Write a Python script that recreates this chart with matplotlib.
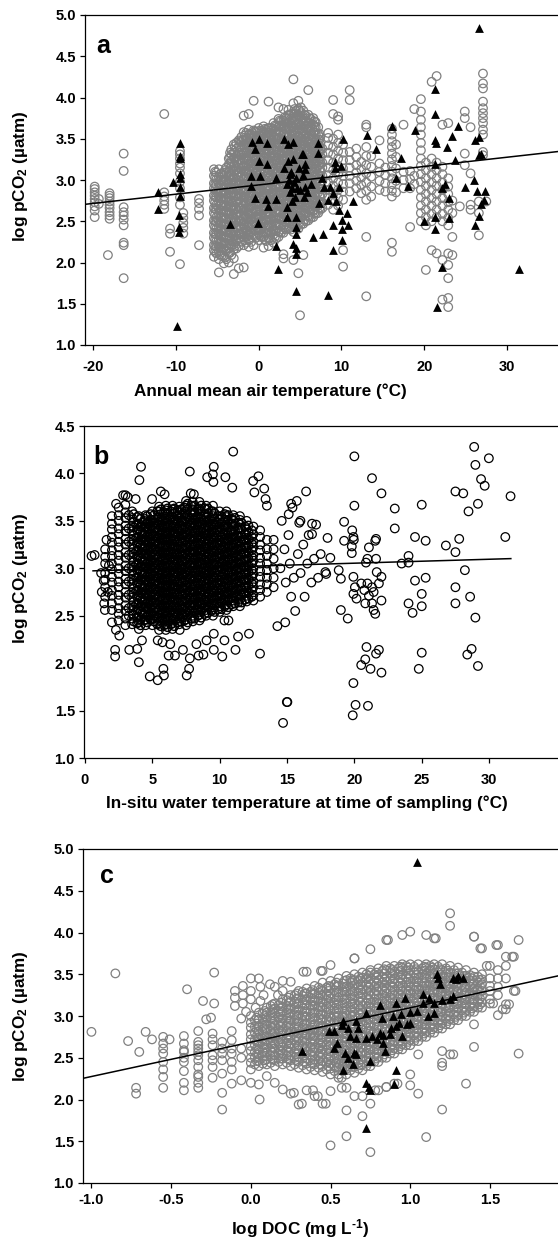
import numpy as np
import matplotlib.pyplot as plt

plt.rcParams['font.family'] = ['Liberation Sans', 'DejaVu Sans']
plt.rcParams['font.weight'] = 'bold'
plt.rcParams['axes.unicode_minus'] = False
plt.rcParams['mathtext.fontset'] = 'custom'
plt.rcParams['mathtext.rm'] = 'Liberation Sans:bold'
plt.rcParams['mathtext.it'] = 'Liberation Sans:bold'
plt.rcParams['mathtext.bf'] = 'Liberation Sans:bold'

GREY = '#808080'

# ---------------- panel a: annual mean air temperature ----------------
# stacks of samples per site temperature
a_site_temp = [-19.8, -19.3, -18.2, -18.0, -16.3, -11.4, -10.7, -9.5, -9.1, -7.2,
               -5.4, -4.8, -4.2, -3.6, -3.0, -2.4, -1.8, -1.2, -0.6, 0.0,
               0.6, 1.2, 1.8, 2.4, 3.0, 3.6, 4.2, 4.8, 5.0, 5.4, 6.0, 6.6, 7.2, 7.7,
               8.4, 9.0, 9.6, 10.2, 11.0, 11.8, 12.4, 13.0, 13.6, 14.6, 15.3,
               16.1, 16.6, 17.5, 18.3, 18.8, 19.6, 20.2, 20.9, 21.5, 22.2, 22.9,
               23.4, 24.3, 24.9, 25.6, 26.6, 27.1, 27.5]
a_site_pco2 = [
    [2.55, 2.63, 2.68, 2.73, 2.77, 2.81, 2.85, 2.89, 2.92],
    [2.71, 2.77],
    [2.09],
    [2.53, 2.57, 2.61, 2.66, 2.7, 2.74, 2.78, 2.81, 2.84],
    [1.81, 2.21, 2.24, 2.45, 2.52, 2.57, 2.61, 2.67, 3.11, 3.32],
    [2.65, 2.7, 2.75, 2.8, 2.85, 3.8],
    [2.13, 2.35, 2.41],
    [1.98, 2.7, 2.79, 2.9, 2.98, 3.08, 3.15, 3.2, 3.26, 3.31, 3.35],
    [2.35, 2.42, 2.48, 2.54, 2.6],
    [2.21, 2.57, 2.65, 2.72, 2.77],
    [2.07, 2.15, 2.21, 2.3, 2.36, 2.45, 2.51, 2.6, 2.66, 2.75, 2.81, 2.9, 2.96, 3.05, 3.13],
    [1.88, 2.04, 2.13, 2.19, 2.28, 2.35, 2.44, 2.5, 2.59, 2.65, 2.74, 2.8, 2.89, 2.95, 3.04, 3.13],
    [1.99, 2.08, 2.17, 2.23, 2.32, 2.38, 2.47, 2.54, 2.63, 2.69, 2.78, 2.85, 2.94, 3.0, 3.09],
    [2.0, 2.11, 2.17, 2.27, 2.33, 2.43, 2.49, 2.58, 2.64, 2.74, 2.8, 2.89, 2.95, 3.04, 3.1, 3.19, 3.26],
    [1.86, 2.05, 2.16, 2.22, 2.32, 2.38, 2.48, 2.54, 2.63, 2.69, 2.79, 2.85, 2.95, 3.01, 3.11, 3.17, 3.27, 3.33, 3.43],
    [1.93, 2.2, 2.29, 2.35, 2.45, 2.51, 2.61, 2.67, 2.77, 2.83, 2.93, 2.99, 3.09, 3.15, 3.25, 3.31, 3.41, 3.48],
    [1.94, 2.21, 2.31, 2.37, 2.47, 2.53, 2.63, 2.69, 2.79, 2.85, 2.95, 3.01, 3.11, 3.17, 3.27, 3.33, 3.43, 3.49, 3.58, 3.78],
    [2.19, 2.27, 2.33, 2.43, 2.49, 2.59, 2.65, 2.75, 2.81, 2.91, 2.97, 3.07, 3.13, 3.23, 3.29, 3.39, 3.45, 3.55, 3.61, 3.8],
    [2.21, 2.33, 2.39, 2.49, 2.55, 2.65, 2.71, 2.81, 2.87, 2.97, 3.03, 3.13, 3.19, 3.29, 3.35, 3.45, 3.51, 3.6, 3.96],
    [2.27, 2.36, 2.42, 2.52, 2.58, 2.68, 2.74, 2.84, 2.9, 3.0, 3.06, 3.16, 3.22, 3.32, 3.38, 3.48, 3.54, 3.63],
    [2.18, 2.31, 2.37, 2.47, 2.53, 2.63, 2.69, 2.79, 2.85, 2.95, 3.01, 3.11, 3.17, 3.27, 3.33, 3.43, 3.49, 3.58, 3.65],
    [2.2, 2.29, 2.39, 2.45, 2.55, 2.61, 2.71, 2.77, 2.87, 2.93, 3.03, 3.09, 3.19, 3.25, 3.35, 3.41, 3.51, 3.57, 3.63, 3.95],
    [2.24, 2.34, 2.4, 2.5, 2.56, 2.66, 2.72, 2.82, 2.88, 2.98, 3.04, 3.14, 3.2, 3.3, 3.36, 3.46, 3.52, 3.62, 3.69],
    [2.31, 2.37, 2.47, 2.53, 2.63, 2.69, 2.79, 2.85, 2.95, 3.01, 3.11, 3.17, 3.27, 3.33, 3.43, 3.49, 3.59, 3.65, 3.74, 3.88],
    [2.05, 2.1, 2.36, 2.43, 2.53, 2.59, 2.69, 2.75, 2.85, 2.91, 3.01, 3.07, 3.17, 3.23, 3.33, 3.39, 3.49, 3.55, 3.65, 3.72, 3.86],
    [2.41, 2.51, 2.57, 2.67, 2.73, 2.83, 2.89, 2.99, 3.05, 3.15, 3.21, 3.31, 3.37, 3.47, 3.53, 3.63, 3.69, 3.79, 3.85],
    [2.03, 2.37, 2.47, 2.53, 2.63, 2.69, 2.79, 2.85, 2.95, 3.01, 3.11, 3.17, 3.27, 3.33, 3.43, 3.49, 3.59, 3.65, 3.75, 3.81, 3.93, 4.22],
    [1.87, 2.41, 2.51, 2.57, 2.67, 2.73, 2.83, 2.89, 2.99, 3.05, 3.15, 3.21, 3.31, 3.37, 3.47, 3.53, 3.63, 3.69, 3.79, 3.86, 3.96],
    [1.36],
    [2.09, 2.47, 2.57, 2.63, 2.73, 2.79, 2.89, 2.95, 3.05, 3.11, 3.21, 3.27, 3.37, 3.43, 3.53, 3.59, 3.69, 3.75, 3.84],
    [2.51, 2.57, 2.67, 2.73, 2.83, 2.89, 2.99, 3.05, 3.15, 3.21, 3.31, 3.37, 3.47, 3.53, 3.63, 3.69, 3.79, 4.09],
    [2.55, 2.63, 2.72, 2.78, 2.88, 2.94, 3.04, 3.1, 3.2, 3.26, 3.36, 3.42, 3.52, 3.58, 3.67, 3.75],
    [2.6, 2.69, 2.75, 2.85, 2.91, 3.01, 3.07, 3.17, 3.23, 3.33, 3.39, 3.49, 3.55, 3.64],
    [2.66, 2.73, 2.83, 2.89, 2.99, 3.05, 3.15, 3.21, 3.31, 3.38],
    [2.7, 2.79, 2.88, 2.97, 3.06, 3.15, 3.24, 3.33, 3.42, 3.51, 3.57],
    [2.64, 2.74, 2.83, 2.93, 3.02, 3.12, 3.21, 3.31, 3.4, 3.5, 3.8, 3.97],
    [2.69, 2.78, 2.88, 2.97, 3.07, 3.16, 3.26, 3.35, 3.45, 3.55, 3.73, 3.77],
    [1.95, 2.15, 2.76, 2.86, 2.95, 3.05, 3.14, 3.24, 3.33, 3.43],
    [2.86, 2.96, 3.05, 3.15, 3.24, 3.34, 3.97, 4.09],
    [2.9, 2.99, 3.09, 3.18, 3.28, 3.38],
    [2.84, 2.94, 3.03, 3.13, 3.22],
    [1.59, 2.31, 2.76, 2.87, 2.97, 3.08, 3.18, 3.29, 3.4, 3.64, 3.67],
    [2.8, 2.92, 3.04, 3.16, 3.29],
    [2.88, 2.99, 3.1, 3.2, 3.48],
    [2.86, 2.96, 3.06, 3.15],
    [2.13, 2.24, 2.8, 2.87, 2.95, 3.02, 3.1, 3.17, 3.25, 3.32, 3.4, 3.47, 3.55, 3.62],
    [2.85, 2.99, 3.14, 3.28, 3.43],
    [2.9, 3.0, 3.1, 3.67],
    [2.43, 2.9, 3.01, 3.11],
    [2.95, 3.05, 3.86],
    [2.5, 2.6, 2.69, 2.79, 2.88, 2.98, 3.07, 3.17, 3.26, 3.36, 3.45, 3.55, 3.64, 3.73, 3.83, 3.98],
    [1.91, 2.45, 2.55, 2.64, 2.74, 2.83, 2.93, 3.02, 3.12, 3.21],
    [2.15, 2.5, 2.59, 2.69, 2.78, 2.88, 2.97, 3.07, 3.16, 3.26, 4.19],
    [2.11, 2.55, 2.64, 2.74, 2.83, 2.93, 3.02, 3.12, 3.21, 4.26],
    [1.55, 2.03, 2.5, 2.59, 2.69, 2.78, 2.88, 2.97, 3.07, 3.16, 3.67],
    [1.46, 1.57, 1.81, 1.97, 2.11, 2.45, 2.54, 2.64, 2.73, 2.83, 2.92, 3.02, 3.69],
    [2.09, 2.31, 2.6, 2.75],
    [2.68],
    [3.18, 3.32, 3.75, 3.83],
    [2.64, 2.7, 3.08, 3.64],
    [2.33, 2.6, 2.74],
    [3.3, 3.34, 3.55, 3.61, 3.69, 3.75, 3.81, 3.87, 3.95, 4.11, 4.17, 4.29],
    [2.74],
]
# more samples inside the solid grey core (-5 to 8 degC)
a_core_temp = [-5.1, -4.5, -3.9, -3.3, -2.7, -2.1, -1.5, -0.9, -0.3, 0.3, 0.9, 1.5,
               2.1, 2.7, 3.3, 3.9, 4.5, 5.1, 5.7, 6.3, 6.9, 7.45,
               -5.25, -4.65, -4.05, -3.45, -2.85, -2.25, -1.65, -1.05, -0.45, 0.15, 0.75,
               1.35, 1.95, 2.55, 3.15, 3.75, 4.35, 4.95, 5.55, 6.15, 6.75, 7.35]
a_core_pco2 = [
    [2.11, 2.19, 2.26, 2.34, 2.41, 2.49, 2.55, 2.64, 2.7, 2.79, 2.86, 2.94, 3.01, 3.09],
    [2.08, 2.17, 2.24, 2.32, 2.39, 2.48, 2.54, 2.63, 2.7, 2.78, 2.85, 2.93, 3.0, 3.08],
    [2.04, 2.14, 2.21, 2.3, 2.37, 2.46, 2.53, 2.62, 2.69, 2.78, 2.84, 2.93, 3.0, 3.09, 3.15],
    [2.09, 2.2, 2.27, 2.36, 2.43, 2.52, 2.59, 2.68, 2.75, 2.84, 2.91, 3.0, 3.07, 3.16, 3.23, 3.31, 3.37],
    [2.17, 2.26, 2.33, 2.42, 2.49, 2.58, 2.65, 2.74, 2.81, 2.9, 2.97, 3.06, 3.13, 3.22, 3.29, 3.38, 3.45],
    [2.25, 2.34, 2.41, 2.5, 2.57, 2.66, 2.73, 2.82, 2.89, 2.98, 3.05, 3.14, 3.21, 3.3, 3.37, 3.46, 3.52],
    [2.24, 2.31, 2.38, 2.47, 2.54, 2.63, 2.7, 2.79, 2.86, 2.95, 3.02, 3.11, 3.18, 3.27, 3.34, 3.43, 3.5, 3.57],
    [2.25, 2.36, 2.43, 2.52, 2.59, 2.68, 2.75, 2.84, 2.91, 3.0, 3.07, 3.16, 3.23, 3.32, 3.39, 3.48, 3.55],
    [2.3, 2.39, 2.46, 2.55, 2.62, 2.71, 2.78, 2.87, 2.94, 3.03, 3.1, 3.19, 3.26, 3.35, 3.42, 3.51, 3.58],
    [2.31, 2.4, 2.47, 2.56, 2.63, 2.72, 2.79, 2.88, 2.95, 3.04, 3.11, 3.2, 3.27, 3.36, 3.43, 3.52, 3.59],
    [2.26, 2.35, 2.42, 2.51, 2.58, 2.67, 2.74, 2.83, 2.9, 2.99, 3.06, 3.15, 3.22, 3.31, 3.38, 3.47, 3.54, 3.61],
    [2.27, 2.36, 2.43, 2.52, 2.59, 2.68, 2.75, 2.84, 2.91, 3.0, 3.07, 3.16, 3.23, 3.32, 3.39, 3.48, 3.55, 3.63],
    [2.29, 2.38, 2.45, 2.54, 2.61, 2.7, 2.77, 2.86, 2.93, 3.02, 3.09, 3.18, 3.25, 3.34, 3.41, 3.5, 3.57, 3.65],
    [2.36, 2.45, 2.52, 2.61, 2.68, 2.77, 2.84, 2.93, 3.0, 3.09, 3.16, 3.25, 3.32, 3.41, 3.48, 3.57, 3.64, 3.71],
    [2.4, 2.49, 2.56, 2.65, 2.72, 2.81, 2.88, 2.97, 3.04, 3.13, 3.2, 3.29, 3.36, 3.45, 3.52, 3.61, 3.68, 3.75],
    [2.4, 2.47, 2.54, 2.63, 2.7, 2.79, 2.86, 2.95, 3.02, 3.11, 3.18, 3.27, 3.34, 3.43, 3.5, 3.59, 3.66, 3.74, 3.8],
    [2.42, 2.49, 2.56, 2.65, 2.72, 2.81, 2.88, 2.97, 3.04, 3.13, 3.2, 3.29, 3.36, 3.45, 3.52, 3.61, 3.68, 3.77, 3.84],
    [2.46, 2.54, 2.61, 2.7, 2.77, 2.86, 2.93, 3.02, 3.09, 3.18, 3.25, 3.34, 3.41, 3.5, 3.57, 3.66, 3.73, 3.81, 3.88],
    [2.5, 2.59, 2.66, 2.75, 2.82, 2.91, 2.98, 3.07, 3.14, 3.23, 3.3, 3.39, 3.46, 3.55, 3.62, 3.71, 3.78],
    [2.54, 2.63, 2.7, 2.79, 2.86, 2.95, 3.02, 3.11, 3.18, 3.27, 3.34, 3.43, 3.5, 3.59, 3.66, 3.74],
    [2.59, 2.68, 2.75, 2.84, 2.91, 3.0, 3.07, 3.16, 3.23, 3.32, 3.39, 3.48, 3.55, 3.64, 3.7],
    [2.64, 2.73, 2.8, 2.89, 2.96, 3.05, 3.12, 3.21, 3.28, 3.37, 3.44, 3.52],
    [2.13, 2.2, 2.28, 2.35, 2.43, 2.5, 2.58, 2.65, 2.73, 2.8, 2.88, 2.95, 3.03, 3.1],
    [2.1, 2.18, 2.25, 2.33, 2.4, 2.48, 2.55, 2.63, 2.7, 2.78, 2.85, 2.93, 3.0, 3.07],
    [2.06, 2.15, 2.23, 2.31, 2.38, 2.46, 2.53, 2.61, 2.68, 2.76, 2.83, 2.91, 2.98, 3.06, 3.12],
    [2.12, 2.22, 2.3, 2.37, 2.45, 2.52, 2.6, 2.67, 2.75, 2.82, 2.9, 2.97, 3.05, 3.12, 3.2, 3.27, 3.33],
    [2.2, 2.28, 2.36, 2.43, 2.51, 2.58, 2.66, 2.73, 2.81, 2.88, 2.96, 3.03, 3.11, 3.18, 3.26, 3.33, 3.41],
    [2.26, 2.35, 2.43, 2.5, 2.58, 2.65, 2.73, 2.8, 2.88, 2.95, 3.03, 3.1, 3.18, 3.25, 3.33, 3.4, 3.47],
    [2.27, 2.35, 2.42, 2.5, 2.57, 2.65, 2.72, 2.8, 2.87, 2.95, 3.02, 3.1, 3.17, 3.25, 3.32, 3.4, 3.47, 3.54],
    [2.28, 2.37, 2.45, 2.52, 2.6, 2.67, 2.75, 2.82, 2.9, 2.97, 3.05, 3.12, 3.2, 3.27, 3.35, 3.42, 3.5, 3.56],
    [2.32, 2.4, 2.48, 2.55, 2.63, 2.7, 2.78, 2.85, 2.93, 3.0, 3.08, 3.15, 3.23, 3.3, 3.38, 3.45, 3.53, 3.59],
    [2.33, 2.41, 2.49, 2.56, 2.64, 2.71, 2.79, 2.86, 2.94, 3.01, 3.09, 3.16, 3.24, 3.31, 3.39, 3.46, 3.54, 3.6],
    [2.28, 2.36, 2.44, 2.51, 2.59, 2.66, 2.74, 2.81, 2.89, 2.96, 3.04, 3.11, 3.19, 3.26, 3.34, 3.41, 3.49, 3.56, 3.62],
    [2.29, 2.37, 2.45, 2.52, 2.6, 2.67, 2.75, 2.82, 2.9, 2.97, 3.05, 3.12, 3.2, 3.27, 3.35, 3.42, 3.5, 3.57, 3.63],
    [2.31, 2.39, 2.47, 2.54, 2.62, 2.69, 2.77, 2.84, 2.92, 2.99, 3.07, 3.14, 3.22, 3.29, 3.37, 3.44, 3.52, 3.59, 3.66],
    [2.38, 2.46, 2.54, 2.61, 2.69, 2.76, 2.84, 2.91, 2.99, 3.06, 3.14, 3.21, 3.29, 3.36, 3.44, 3.51, 3.59, 3.66, 3.72],
    [2.42, 2.5, 2.58, 2.65, 2.73, 2.8, 2.88, 2.95, 3.03, 3.1, 3.18, 3.25, 3.33, 3.4, 3.48, 3.55, 3.63, 3.7, 3.76],
    [2.43, 2.5, 2.57, 2.65, 2.72, 2.8, 2.87, 2.95, 3.02, 3.1, 3.17, 3.25, 3.32, 3.4, 3.47, 3.55, 3.62, 3.7, 3.78],
    [2.44, 2.52, 2.59, 2.67, 2.74, 2.82, 2.89, 2.97, 3.04, 3.12, 3.19, 3.27, 3.34, 3.42, 3.49, 3.57, 3.64, 3.72, 3.8, 3.86],
    [2.48, 2.56, 2.63, 2.71, 2.78, 2.86, 2.93, 3.01, 3.08, 3.16, 3.23, 3.31, 3.38, 3.46, 3.53, 3.61, 3.68, 3.76, 3.84],
    [2.52, 2.6, 2.67, 2.75, 2.82, 2.9, 2.97, 3.05, 3.12, 3.2, 3.27, 3.35, 3.42, 3.5, 3.57, 3.65, 3.72, 3.79],
    [2.56, 2.64, 2.71, 2.79, 2.86, 2.94, 3.01, 3.09, 3.16, 3.24, 3.31, 3.39, 3.46, 3.54, 3.61, 3.69, 3.75],
    [2.6, 2.68, 2.75, 2.83, 2.9, 2.98, 3.05, 3.13, 3.2, 3.28, 3.35, 3.43, 3.5, 3.58, 3.65, 3.71],
    [2.66, 2.74, 2.81, 2.89, 2.96, 3.04, 3.11, 3.19, 3.26, 3.34, 3.41, 3.49, 3.56],
]
# filled triangles (temperature, log pCO2)
a_tri = [(-12.2, 2.86), (-12.2, 2.65), (-10.4, 2.97), (-9.5, 3.45), (-9.5, 3.29), (-9.5, 3.27),
         (-9.5, 3.07), (-9.5, 3.03), (-9.5, 2.92), (-9.5, 2.81), (-9.6, 2.58), (-9.6, 2.43),
         (-9.6, 2.37), (-9.8, 1.23), (-3.48, 2.47), (-0.83, 3.46), (0.08, 3.5), (1.02, 3.45),
         (-0.38, 3.37), (0.0, 3.23), (1.02, 3.19), (-0.95, 3.05), (0.19, 3.05), (2.08, 3.03),
         (-0.95, 2.93), (-0.38, 2.78), (0.95, 2.77), (1.14, 2.69), (2.08, 2.77), (3.03, 3.5),
         (3.6, 3.44), (4.17, 3.46), (3.6, 3.23), (4.17, 3.25), (3.03, 3.15), (3.79, 3.07),
         (3.41, 2.95), (4.55, 3.03), (4.92, 3.15), (5.38, 3.31), (3.41, 2.67), (3.41, 2.55),
         (4.55, 2.55), (4.55, 2.43), (4.55, 2.35), (4.17, 2.23), (4.55, 2.17), (4.55, 2.1),
         (-0.08, 2.48), (2.08, 2.2), (2.35, 1.92), (4.55, 1.65), (3.8, 2.85), (4.0, 2.9),
         (4.3, 2.98), (3.9, 3.1), (4.4, 2.8), (4.0, 2.75), (3.7, 3.0), (4.6, 2.9), (5.9, 2.85),
         (6.3, 2.95), (5.5, 2.8), (26.56, 4.84), (21.27, 4.1), (21.27, 3.8), (16.1, 3.65),
         (18.88, 3.61), (24.1, 3.65), (23.35, 3.53), (21.27, 3.48), (21.46, 3.45), (22.78, 3.4),
         (23.72, 3.24), (21.27, 3.19), (26.56, 3.52), (26.18, 3.49), (26.56, 3.3), (26.8, 3.32),
         (13.06, 3.55), (10.19, 3.5), (14.2, 3.38), (17.2, 3.27), (7.16, 3.45), (7.16, 3.33),
         (5.2, 3.32), (5.58, 3.2), (5.58, 3.13), (5.39, 3.06), (5.58, 2.92), (5.0, 2.88),
         (7.65, 3.02), (7.84, 2.92), (9.17, 3.22), (9.92, 3.17), (9.17, 3.14), (8.6, 2.92),
         (9.73, 2.92), (8.98, 2.84), (8.4, 2.76), (9.36, 2.74), (7.28, 2.72), (9.73, 2.64),
         (10.68, 2.6), (10.1, 2.52), (8.98, 2.45), (10.1, 2.41), (10.8, 2.45), (7.77, 2.35),
         (6.52, 2.31), (10.1, 2.27), (8.98, 2.15), (16.65, 3.03), (18.05, 2.93), (11.36, 2.74),
         (8.4, 1.61), (22.5, 2.95), (22.2, 2.9), (22.97, 2.78), (22.97, 2.54), (21.27, 2.55),
         (19.94, 2.5), (21.27, 2.41), (24.97, 2.92), (25.99, 3.0), (26.37, 2.87), (27.4, 2.87),
         (27.2, 2.76), (26.9, 2.71), (26.56, 2.56), (26.1, 2.46), (22.2, 1.94), (21.57, 1.46),
         (31.47, 1.92)]
a_fit = (2.94, 0.0112)   # intercept, slope

# ---------------- panel b: in-situ water temperature ----------------
b_col_temp = [1.5, 2.0, 2.5, 3.0, 3.5, 4.0, 4.5, 5.0, 5.5, 6.0, 6.5, 7.0, 7.5, 8.0, 8.5,
              9.0, 9.5, 10.0, 10.5, 11.0, 11.5, 12.0, 12.5, 13.0, 13.5, 14.0,
              3.25, 4.25, 4.75, 5.25, 5.75, 6.25, 6.75, 7.25, 7.75, 8.25, 8.75, 9.25,
              9.75, 10.25, 10.75, 11.25, 11.75]
b_col_pco2 = [
    [2.7, 2.8, 2.88, 2.95, 3.05, 3.12, 3.2],
    [2.56, 2.63, 2.71, 2.77, 2.85, 2.91, 2.99, 3.05, 3.13, 3.19, 3.27, 3.33, 3.41, 3.47, 3.55],
    [2.45, 2.52, 2.58, 2.66, 2.72, 2.8, 2.86, 2.94, 3.0, 3.08, 3.14, 3.22, 3.28, 3.36, 3.42, 3.5, 3.56, 3.64],
    [2.4, 2.47, 2.55, 2.61, 2.69, 2.75, 2.83, 2.89, 2.97, 3.03, 3.11, 3.17, 3.25, 3.31, 3.39, 3.45, 3.53, 3.59, 3.67],
    [2.41, 2.47, 2.55, 2.61, 2.69, 2.75, 2.83, 2.89, 2.97, 3.03, 3.11, 3.17, 3.25, 3.31, 3.39, 3.45, 3.53, 3.6],
    [2.36, 2.43, 2.49, 2.57, 2.63, 2.71, 2.77, 2.85, 2.91, 2.99, 3.05, 3.13, 3.19, 3.27, 3.33, 3.41, 3.47, 3.55],
    [2.4, 2.46, 2.54, 2.6, 2.68, 2.74, 2.82, 2.88, 2.96, 3.02, 3.1, 3.16, 3.24, 3.3, 3.38, 3.44, 3.52, 3.56],
    [2.4, 2.47, 2.53, 2.61, 2.67, 2.75, 2.81, 2.89, 2.95, 3.03, 3.09, 3.17, 3.23, 3.31, 3.37, 3.45, 3.51, 3.6],
    [2.35, 2.42, 2.48, 2.56, 2.62, 2.7, 2.76, 2.84, 2.9, 2.98, 3.04, 3.12, 3.18, 3.26, 3.32, 3.4, 3.46, 3.54, 3.6, 3.65],
    [2.35, 2.41, 2.49, 2.55, 2.63, 2.69, 2.77, 2.83, 2.91, 2.97, 3.05, 3.11, 3.19, 3.25, 3.33, 3.39, 3.47, 3.53, 3.61, 3.66],
    [2.36, 2.42, 2.5, 2.56, 2.64, 2.7, 2.78, 2.84, 2.92, 2.98, 3.06, 3.12, 3.2, 3.26, 3.34, 3.4, 3.48, 3.54, 3.62, 3.66],
    [2.41, 2.47, 2.55, 2.61, 2.69, 2.75, 2.83, 2.89, 2.97, 3.03, 3.11, 3.17, 3.25, 3.31, 3.39, 3.45, 3.53, 3.59, 3.65],
    [2.4, 2.46, 2.54, 2.6, 2.68, 2.74, 2.82, 2.88, 2.96, 3.02, 3.1, 3.16, 3.24, 3.3, 3.38, 3.44, 3.52, 3.58, 3.66, 3.71],
    [2.44, 2.5, 2.58, 2.64, 2.72, 2.78, 2.86, 2.92, 3.0, 3.06, 3.14, 3.2, 3.28, 3.34, 3.42, 3.48, 3.56, 3.62, 3.7],
    [2.45, 2.51, 2.59, 2.65, 2.73, 2.79, 2.87, 2.93, 3.01, 3.07, 3.15, 3.21, 3.29, 3.35, 3.43, 3.49, 3.57, 3.63, 3.7],
    [2.5, 2.56, 2.64, 2.7, 2.78, 2.84, 2.92, 2.98, 3.06, 3.12, 3.2, 3.26, 3.34, 3.4, 3.48, 3.54, 3.62, 3.66],
    [2.5, 2.57, 2.63, 2.71, 2.77, 2.85, 2.91, 2.99, 3.05, 3.13, 3.19, 3.27, 3.33, 3.41, 3.47, 3.55, 3.6, 3.66],
    [2.54, 2.6, 2.68, 2.74, 2.82, 2.88, 2.96, 3.02, 3.1, 3.16, 3.24, 3.3, 3.38, 3.44, 3.52, 3.6],
    [2.56, 2.62, 2.7, 2.76, 2.84, 2.9, 2.98, 3.04, 3.12, 3.18, 3.26, 3.32, 3.4, 3.46, 3.54, 3.6],
    [2.6, 2.66, 2.74, 2.8, 2.88, 2.94, 3.02, 3.08, 3.16, 3.22, 3.3, 3.36, 3.44, 3.5, 3.56],
    [2.6, 2.67, 2.73, 2.81, 2.87, 2.95, 3.01, 3.09, 3.15, 3.23, 3.29, 3.37, 3.43, 3.51, 3.55],
    [2.65, 2.71, 2.79, 2.85, 2.93, 2.99, 3.07, 3.13, 3.21, 3.27, 3.35, 3.41, 3.5],
    [2.66, 2.72, 2.8, 2.86, 2.94, 3.0, 3.08, 3.14, 3.22, 3.28, 3.36, 3.44],
    [2.7, 2.77, 2.83, 2.91, 2.97, 3.05, 3.11, 3.19, 3.25, 3.33, 3.4],
    [2.75, 2.83, 2.9, 2.98, 3.05, 3.13, 3.2, 3.3],
    [2.8, 2.9, 3.0, 3.1, 3.2, 3.3],
    [2.5, 2.58, 2.72, 2.86, 3.0, 3.14, 3.28, 3.42, 3.56],
    [2.52, 2.6, 2.66, 2.74, 2.8, 2.88, 2.94, 3.02, 3.08, 3.16, 3.22, 3.3, 3.36, 3.44],
    [2.5, 2.57, 2.63, 2.71, 2.77, 2.85, 2.91, 2.99, 3.05, 3.13, 3.19, 3.27, 3.33, 3.41, 3.47],
    [2.5, 2.58, 2.64, 2.72, 2.78, 2.86, 2.92, 3.0, 3.06, 3.14, 3.2, 3.28, 3.34, 3.42, 3.48],
    [2.46, 2.52, 2.6, 2.66, 2.74, 2.8, 2.88, 2.94, 3.02, 3.08, 3.16, 3.22, 3.3, 3.36, 3.44, 3.5],
    [2.45, 2.53, 2.59, 2.67, 2.73, 2.81, 2.87, 2.95, 3.01, 3.09, 3.15, 3.23, 3.29, 3.37, 3.43, 3.51],
    [2.46, 2.52, 2.6, 2.66, 2.74, 2.8, 2.88, 2.94, 3.02, 3.08, 3.16, 3.22, 3.3, 3.36, 3.44, 3.5],
    [2.5, 2.57, 2.65, 2.71, 2.79, 2.85, 2.93, 2.99, 3.07, 3.13, 3.21, 3.27, 3.35, 3.41, 3.49],
    [2.55, 2.61, 2.69, 2.75, 2.83, 2.89, 2.97, 3.03, 3.11, 3.17, 3.25, 3.31, 3.39, 3.45, 3.52],
    [2.55, 2.62, 2.68, 2.76, 2.82, 2.9, 2.96, 3.04, 3.1, 3.18, 3.24, 3.32, 3.38, 3.46, 3.52],
    [2.58, 2.64, 2.72, 2.78, 2.86, 2.92, 3.0, 3.06, 3.14, 3.2, 3.28, 3.34, 3.42, 3.48],
    [2.6, 2.67, 2.73, 2.81, 2.87, 2.95, 3.01, 3.09, 3.15, 3.23, 3.29, 3.37, 3.43, 3.5],
    [2.63, 2.7, 2.76, 2.84, 2.9, 2.98, 3.04, 3.12, 3.18, 3.26, 3.32, 3.4, 3.46],
    [2.66, 2.72, 2.8, 2.86, 2.94, 3.0, 3.08, 3.14, 3.22, 3.28, 3.36, 3.44],
    [2.68, 2.76, 2.82, 2.9, 2.96, 3.04, 3.1, 3.18, 3.24, 3.32, 3.4],
    [2.7, 2.78, 2.84, 2.92, 2.98, 3.06, 3.12, 3.2, 3.26, 3.34],
    [2.74, 2.8, 2.88, 2.94, 3.02, 3.08, 3.16, 3.22, 3.3],
]
# more samples inside the solid black core
b_core_temp = [3.625, 4.125, 4.625, 5.125, 5.625, 6.125, 6.625, 7.125, 7.625, 8.125,
               8.625, 9.125, 9.625, 10.125, 10.625, 11.125, 11.625, 12.125,
               3.875, 4.375, 4.875, 5.375, 5.875, 6.375, 6.875, 7.375, 7.875, 8.375,
               8.875, 9.375, 9.875, 10.375, 10.875, 11.375, 11.875, 12.375]
b_core_pco2 = [
    [2.44, 2.51, 2.59, 2.65, 2.73, 2.79, 2.87, 2.93, 3.01, 3.07, 3.15, 3.21, 3.29, 3.35, 3.43, 3.49, 3.57],
    [2.4, 2.46, 2.54, 2.6, 2.68, 2.74, 2.82, 2.88, 2.96, 3.02, 3.1, 3.16, 3.24, 3.3, 3.38, 3.44, 3.52],
    [2.43, 2.5, 2.57, 2.64, 2.71, 2.78, 2.85, 2.92, 2.99, 3.06, 3.13, 3.2, 3.27, 3.34, 3.41, 3.48, 3.55],
    [2.44, 2.5, 2.58, 2.64, 2.72, 2.78, 2.86, 2.92, 3.0, 3.06, 3.14, 3.2, 3.28, 3.34, 3.42, 3.48, 3.56],
    [2.39, 2.45, 2.52, 2.59, 2.66, 2.73, 2.8, 2.87, 2.94, 3.01, 3.08, 3.15, 3.22, 3.29, 3.36, 3.43, 3.5, 3.57, 3.62],
    [2.38, 2.45, 2.52, 2.59, 2.66, 2.73, 2.8, 2.87, 2.94, 3.01, 3.08, 3.15, 3.22, 3.29, 3.36, 3.43, 3.5, 3.57, 3.63],
    [2.39, 2.46, 2.53, 2.6, 2.67, 2.74, 2.81, 2.88, 2.95, 3.02, 3.09, 3.16, 3.23, 3.3, 3.37, 3.44, 3.51, 3.58, 3.63],
    [2.44, 2.51, 2.58, 2.65, 2.72, 2.79, 2.86, 2.93, 3.0, 3.07, 3.14, 3.21, 3.28, 3.35, 3.42, 3.49, 3.56, 3.62],
    [2.43, 2.5, 2.57, 2.64, 2.71, 2.78, 2.85, 2.92, 2.99, 3.06, 3.13, 3.2, 3.27, 3.34, 3.41, 3.48, 3.55, 3.62, 3.68],
    [2.47, 2.54, 2.61, 2.68, 2.75, 2.82, 2.89, 2.96, 3.03, 3.1, 3.17, 3.24, 3.31, 3.38, 3.45, 3.52, 3.59, 3.66],
    [2.48, 2.55, 2.62, 2.69, 2.76, 2.83, 2.9, 2.97, 3.04, 3.11, 3.18, 3.25, 3.32, 3.39, 3.46, 3.53, 3.6, 3.66],
    [2.53, 2.6, 2.67, 2.74, 2.81, 2.88, 2.95, 3.02, 3.09, 3.16, 3.23, 3.3, 3.37, 3.44, 3.51, 3.58, 3.63],
    [2.54, 2.61, 2.68, 2.75, 2.82, 2.89, 2.96, 3.03, 3.1, 3.17, 3.24, 3.31, 3.38, 3.45, 3.52, 3.58],
    [2.57, 2.64, 2.71, 2.78, 2.85, 2.92, 2.99, 3.06, 3.13, 3.2, 3.27, 3.34, 3.41, 3.48, 3.55],
    [2.59, 2.66, 2.73, 2.8, 2.87, 2.94, 3.01, 3.08, 3.15, 3.22, 3.29, 3.36, 3.43, 3.5, 3.56],
    [2.63, 2.7, 2.77, 2.84, 2.91, 2.98, 3.05, 3.12, 3.19, 3.26, 3.33, 3.4, 3.47, 3.53],
    [2.64, 2.71, 2.78, 2.85, 2.92, 2.99, 3.06, 3.13, 3.2, 3.27, 3.34, 3.41, 3.48],
    [2.68, 2.75, 2.82, 2.89, 2.96, 3.03, 3.1, 3.17, 3.24, 3.31, 3.38, 3.45],
    [2.42, 2.49, 2.56, 2.63, 2.7, 2.77, 2.84, 2.91, 2.98, 3.05, 3.12, 3.19, 3.26, 3.33, 3.4, 3.47, 3.54],
    [2.45, 2.52, 2.59, 2.66, 2.73, 2.8, 2.87, 2.94, 3.01, 3.08, 3.15, 3.22, 3.29, 3.36, 3.43, 3.5],
    [2.46, 2.53, 2.6, 2.67, 2.74, 2.81, 2.88, 2.95, 3.02, 3.09, 3.16, 3.23, 3.3, 3.37, 3.44, 3.51, 3.57],
    [2.41, 2.48, 2.55, 2.62, 2.69, 2.76, 2.83, 2.9, 2.97, 3.04, 3.11, 3.18, 3.25, 3.32, 3.39, 3.46, 3.53, 3.6],
    [2.4, 2.47, 2.54, 2.61, 2.68, 2.75, 2.82, 2.89, 2.96, 3.03, 3.1, 3.17, 3.24, 3.31, 3.38, 3.45, 3.52, 3.59],
    [2.41, 2.48, 2.55, 2.62, 2.69, 2.76, 2.83, 2.9, 2.97, 3.04, 3.11, 3.18, 3.25, 3.32, 3.39, 3.46, 3.53, 3.6],
    [2.43, 2.5, 2.57, 2.64, 2.71, 2.78, 2.85, 2.92, 2.99, 3.06, 3.13, 3.2, 3.27, 3.34, 3.41, 3.48, 3.55, 3.61],
    [2.45, 2.52, 2.59, 2.66, 2.73, 2.8, 2.87, 2.94, 3.01, 3.08, 3.15, 3.22, 3.29, 3.36, 3.43, 3.5, 3.57, 3.64],
    [2.47, 2.54, 2.61, 2.68, 2.75, 2.82, 2.89, 2.96, 3.03, 3.1, 3.17, 3.24, 3.31, 3.38, 3.45, 3.52, 3.59, 3.66],
    [2.5, 2.57, 2.64, 2.71, 2.78, 2.85, 2.92, 2.99, 3.06, 3.13, 3.2, 3.27, 3.34, 3.41, 3.48, 3.55, 3.62],
    [2.52, 2.59, 2.66, 2.73, 2.8, 2.87, 2.94, 3.01, 3.08, 3.15, 3.22, 3.29, 3.36, 3.43, 3.5, 3.57, 3.63],
    [2.55, 2.62, 2.69, 2.76, 2.83, 2.9, 2.97, 3.04, 3.11, 3.18, 3.25, 3.32, 3.39, 3.46, 3.53, 3.6],
    [2.57, 2.64, 2.71, 2.78, 2.85, 2.92, 2.99, 3.06, 3.13, 3.2, 3.27, 3.34, 3.41, 3.48, 3.55],
    [2.6, 2.67, 2.74, 2.81, 2.88, 2.95, 3.02, 3.09, 3.16, 3.23, 3.3, 3.37, 3.44, 3.51, 3.57],
    [2.62, 2.69, 2.76, 2.83, 2.9, 2.97, 3.04, 3.11, 3.18, 3.25, 3.32, 3.39, 3.46, 3.52],
    [2.64, 2.71, 2.78, 2.85, 2.92, 2.99, 3.06, 3.13, 3.2, 3.27, 3.34, 3.41, 3.48],
    [2.67, 2.74, 2.81, 2.88, 2.95, 3.02, 3.09, 3.16, 3.23, 3.3, 3.37, 3.44],
    [2.7, 2.77, 2.84, 2.91, 2.98, 3.05, 3.12, 3.19, 3.26, 3.33, 3.4],
]
b_scatter = [(4.16, 4.07), (4.04, 3.93), (7.78, 4.02), (9.56, 4.07), (9.49, 3.99), (9.07, 3.96),
             (9.53, 3.91), (10.42, 3.96), (10.93, 3.85), (11.0, 4.23), (12.87, 3.97), (12.48, 3.92),
             (12.57, 3.8), (13.3, 3.84), (13.5, 3.66), (13.4, 3.73), (5.63, 3.81), (4.98, 3.73),
             (5.91, 3.78), (7.85, 3.79), (8.08, 3.78), (3.01, 3.77), (2.83, 3.77), (3.18, 3.75),
             (3.76, 3.73), (2.31, 3.68), (0.72, 3.14), (0.49, 3.13), (1.78, 3.03), (1.39, 2.87),
             (1.43, 2.63), (1.48, 2.56), (2.0, 2.43), (2.3, 2.35), (2.55, 2.29), (2.24, 2.14),
             (2.24, 2.07), (3.29, 2.14), (3.88, 2.15), (4.0, 2.01), (4.23, 2.24), (4.81, 1.86),
             (5.4, 2.24), (5.4, 1.82), (5.86, 1.87), (5.82, 1.94), (6.21, 2.08), (6.68, 2.08),
             (7.27, 2.14), (7.55, 1.87), (7.73, 1.94), (7.78, 2.05), (8.43, 2.08), (8.79, 2.09),
             (9.02, 2.24), (9.56, 2.14), (10.19, 2.07), (10.35, 2.24), (11.17, 2.14), (11.36, 2.28),
             (12.17, 2.31), (12.99, 2.1), (14.28, 2.39), (14.86, 2.43), (14.98, 1.59), (14.7, 1.37),
             (10.65, 2.45), (10.35, 2.45), (9.56, 2.31), (8.27, 2.2), (7.03, 2.35), (6.33, 2.2),
             (5.75, 2.22), (1.2, 2.95), (1.6, 3.3), (1.7, 2.75), (1.25, 2.75),
             (14.8, 3.2), (15.2, 3.05), (15.5, 2.9), (15.8, 3.15), (16.0, 2.95), (16.2, 3.25),
             (16.5, 3.05), (16.8, 2.85), (17.0, 3.1), (14.9, 2.85), (15.3, 2.7), (15.6, 2.55),
             (16.3, 2.7), (17.3, 2.9), (16.6, 3.35), (15.1, 3.35), (14.6, 3.5), (14.5, 3.0),
             (16.41, 3.81), (15.72, 3.71), (15.3, 3.68), (15.12, 3.57), (15.4, 3.64), (15.99, 3.5),
             (15.9, 3.48), (16.85, 3.47), (16.85, 3.36), (17.15, 3.46), (18.0, 3.32), (18.21, 3.11),
             (17.49, 3.15), (17.84, 2.96), (17.9, 2.94), (18.83, 2.98), (18.99, 2.89), (19.23, 3.49),
             (19.23, 3.29), (18.99, 2.56), (19.5, 2.47), (19.99, 4.18), (19.99, 3.66), (19.83, 3.4),
             (19.92, 3.33), (19.95, 3.3), (19.8, 3.23), (19.8, 3.16), (21.3, 3.95), (22.0, 3.79),
             (21.54, 3.29), (21.6, 3.31), (21.07, 3.22), (20.96, 3.1), (20.85, 3.06), (19.92, 2.91),
             (20.03, 2.8), (19.92, 2.73), (20.15, 2.68), (20.5, 2.84), (20.73, 2.77), (20.96, 2.84),
             (21.3, 2.8), (21.42, 2.75), (21.07, 2.71), (21.3, 2.63), (21.42, 2.56), (21.54, 2.52),
             (21.65, 2.96), (22.0, 2.91), (22.0, 2.66), (21.81, 2.84), (20.8, 2.63), (21.6, 3.1),
             (22.99, 3.63), (22.99, 3.42), (23.5, 3.05), (24.01, 3.13), (24.01, 3.06), (24.49, 3.33),
             (24.99, 3.67), (25.28, 3.29), (24.49, 2.87), (25.28, 2.9), (24.99, 2.73), (24.99, 2.6),
             (24.01, 2.63), (24.31, 2.53), (26.78, 3.24), (27.49, 3.81), (28.07, 3.79), (28.46, 3.6),
             (27.77, 3.31), (27.49, 3.17), (28.19, 2.98), (27.49, 2.8), (27.49, 2.63), (28.58, 2.7),
             (28.97, 2.48), (29.16, 3.68), (29.66, 3.87), (29.39, 3.94), (28.97, 4.09), (28.88, 4.28),
             (29.97, 4.16), (31.58, 3.76), (31.19, 3.33), (20.89, 2.17), (21.81, 2.14), (21.6, 2.1),
             (20.8, 2.04), (20.5, 1.98), (21.19, 1.94), (22.0, 1.9), (19.92, 1.79), (20.08, 1.56),
             (21.0, 1.55), (19.87, 1.45), (24.99, 2.11), (24.77, 1.94), (28.69, 2.15), (28.37, 2.09),
             (29.16, 1.97), (15.02, 1.59)]
b_fit = (2.9705, 0.00416)
b_fit_range = (0.6, 31.6)

# ---------------- panel c: log DOC ----------------
c_col_doc = [-0.55, -0.42, -0.33, -0.24, -0.18, -0.12, -0.06,
             0.0, 0.05, 0.1, 0.15, 0.2, 0.25, 0.3, 0.35, 0.4, 0.45, 0.5, 0.55, 0.6,
             0.65, 0.7, 0.75, 0.8, 0.85, 0.9, 0.95, 1.0, 1.05, 1.1, 1.15, 1.2, 1.25,
             1.3, 1.35, 1.4, 1.45, 1.5, 1.55, 1.6, 1.65, 1.68]
c_col_pco2 = [
    [2.14, 2.27, 2.36, 2.45, 2.55, 2.61, 2.67, 2.75],
    [2.11, 2.2, 2.34, 2.45, 2.5, 2.57, 2.59, 2.67, 2.76],
    [2.14, 2.2, 2.27, 2.3, 2.39, 2.47, 2.53, 2.57, 2.61, 2.65, 2.69, 2.82],
    [2.26, 2.39, 2.47, 2.53, 2.65, 2.72, 2.79],
    [2.31, 2.47, 2.55, 2.61, 2.69],
    [2.19, 2.36, 2.45, 2.55, 2.61, 2.71, 2.82],
    [2.23, 2.5, 2.61, 2.97],
    [2.2, 2.36, 2.44, 2.5, 2.58, 2.64, 2.72, 2.78, 2.86, 2.92, 3.0],
    [2.18, 2.4, 2.46, 2.54, 2.6, 2.68, 2.74, 2.82, 2.88, 2.96, 3.04],
    [2.28, 2.42, 2.48, 2.56, 2.62, 2.7, 2.76, 2.84, 2.9, 2.98, 3.04, 3.1],
    [2.2, 2.4, 2.47, 2.53, 2.61, 2.67, 2.75, 2.81, 2.89, 2.95, 3.03, 3.09, 3.15],
    [2.12, 2.42, 2.49, 2.55, 2.63, 2.69, 2.77, 2.83, 2.91, 2.97, 3.05, 3.11, 3.2, 3.3],
    [2.07, 2.4, 2.47, 2.53, 2.61, 2.67, 2.75, 2.81, 2.89, 2.95, 3.03, 3.09, 3.17, 3.25, 3.41],
    [1.94, 2.38, 2.45, 2.51, 2.59, 2.65, 2.73, 2.79, 2.87, 2.93, 3.01, 3.07, 3.15, 3.21, 3.3],
    [2.11, 2.36, 2.43, 2.49, 2.57, 2.63, 2.71, 2.77, 2.85, 2.91, 2.99, 3.05, 3.13, 3.19, 3.27, 3.33, 3.53],
    [2.04, 2.35, 2.42, 2.48, 2.56, 2.62, 2.7, 2.76, 2.84, 2.9, 2.98, 3.04, 3.12, 3.18, 3.26, 3.36],
    [1.95, 2.33, 2.4, 2.46, 2.54, 2.6, 2.68, 2.74, 2.82, 2.88, 2.96, 3.02, 3.1, 3.16, 3.24, 3.3, 3.4, 3.54],
    [1.45, 2.1, 2.3, 2.37, 2.43, 2.51, 2.57, 2.65, 2.71, 2.79, 2.85, 2.93, 2.99, 3.07, 3.13, 3.21, 3.27, 3.35, 3.42, 3.61],
    [2.26, 2.3, 2.38, 2.44, 2.52, 2.58, 2.66, 2.72, 2.8, 2.86, 2.94, 3.0, 3.08, 3.14, 3.22, 3.28, 3.36, 3.45],
    [1.56, 1.87, 2.14, 2.3, 2.37, 2.45, 2.51, 2.59, 2.65, 2.73, 2.79, 2.87, 2.93, 3.01, 3.07, 3.15, 3.21, 3.29, 3.35, 3.43, 3.48],
    [2.04, 2.32, 2.39, 2.45, 2.53, 2.59, 2.67, 2.73, 2.81, 2.87, 2.95, 3.01, 3.09, 3.15, 3.23, 3.29, 3.37, 3.43, 3.5, 3.69],
    [1.8, 2.04, 2.35, 2.42, 2.48, 2.56, 2.62, 2.7, 2.76, 2.84, 2.9, 2.98, 3.04, 3.12, 3.18, 3.26, 3.32, 3.4, 3.46, 3.52],
    [1.37, 1.95, 2.4, 2.46, 2.54, 2.6, 2.68, 2.74, 2.82, 2.88, 2.96, 3.02, 3.1, 3.16, 3.24, 3.3, 3.38, 3.44, 3.52, 3.55, 3.8],
    [2.11, 2.45, 2.51, 2.59, 2.65, 2.73, 2.79, 2.87, 2.93, 3.01, 3.07, 3.15, 3.21, 3.29, 3.35, 3.43, 3.49, 3.57],
    [2.15, 2.5, 2.57, 2.63, 2.71, 2.77, 2.85, 2.91, 2.99, 3.05, 3.13, 3.19, 3.27, 3.33, 3.41, 3.47, 3.55, 3.6, 3.91],
    [2.19, 2.55, 2.61, 2.69, 2.75, 2.83, 2.89, 2.97, 3.03, 3.11, 3.17, 3.25, 3.31, 3.39, 3.45, 3.53, 3.6],
    [2.6, 2.66, 2.74, 2.8, 2.88, 2.94, 3.02, 3.08, 3.16, 3.22, 3.3, 3.36, 3.44, 3.5, 3.58, 3.62, 3.97],
    [2.17, 2.3, 2.65, 2.71, 2.79, 2.85, 2.93, 2.99, 3.07, 3.13, 3.21, 3.27, 3.35, 3.41, 3.49, 3.55, 3.62, 4.01],
    [2.07, 2.54, 2.7, 2.76, 2.84, 2.9, 2.98, 3.04, 3.12, 3.18, 3.26, 3.32, 3.4, 3.46, 3.54, 3.62],
    [1.55, 2.75, 2.81, 2.89, 2.95, 3.03, 3.09, 3.17, 3.23, 3.31, 3.37, 3.45, 3.51, 3.58, 3.62, 3.97],
    [2.8, 2.86, 2.94, 3.0, 3.08, 3.14, 3.22, 3.28, 3.36, 3.42, 3.5, 3.56, 3.62, 3.93],
    [1.88, 2.4, 2.44, 2.58, 2.85, 2.91, 2.99, 3.05, 3.13, 3.19, 3.27, 3.33, 3.41, 3.47, 3.55, 3.62],
    [2.54, 2.9, 2.96, 3.04, 3.1, 3.18, 3.24, 3.32, 3.38, 3.46, 3.52, 3.6, 4.08, 4.23],
    [2.95, 3.01, 3.09, 3.15, 3.23, 3.29, 3.37, 3.43, 3.51, 3.58],
    [2.19, 3.0, 3.06, 3.14, 3.2, 3.28, 3.34, 3.42, 3.48, 3.55],
    [2.63, 2.9, 3.05, 3.11, 3.19, 3.25, 3.33, 3.39, 3.47, 3.52, 3.95],
    [3.1, 3.16, 3.24, 3.3, 3.38, 3.44, 3.5, 3.81],
    [3.15, 3.2, 3.3, 3.36, 3.45, 3.6],
    [3.01, 3.25, 3.35, 3.45, 3.55, 3.85],
    [3.08, 3.14, 3.45, 3.6, 3.71],
    [3.3, 3.71],
    [2.55, 3.91],
]
# more samples inside the solid grey core
c_core_doc = [0.025, 0.075, 0.125, 0.175, 0.225, 0.275, 0.325, 0.375, 0.425, 0.475,
              0.525, 0.575, 0.625, 0.675, 0.725, 0.775, 0.825, 0.875, 0.925, 0.975,
              1.025, 1.075, 1.125, 1.175, 1.225, 1.275, 1.325, 1.375, 1.425,
              0.0375, 0.0875, 0.1375, 0.1875, 0.2375, 0.2875, 0.3375, 0.3875, 0.4375,
              0.4875, 0.5375, 0.5875, 0.6375, 0.6875, 0.7375, 0.7875, 0.8375, 0.8875,
              0.9375, 0.9875, 1.0375, 1.0875, 1.1375, 1.1875, 1.2375, 1.2875, 1.3375,
              1.3875, 1.4375]
c_core_pco2 = [
    [2.42, 2.5, 2.57, 2.65, 2.72, 2.8, 2.87, 2.95],
    [2.43, 2.51, 2.58, 2.66, 2.73, 2.81, 2.88, 2.96, 3.03],
    [2.44, 2.52, 2.59, 2.67, 2.74, 2.82, 2.89, 2.97, 3.04, 3.12],
    [2.45, 2.53, 2.6, 2.68, 2.75, 2.83, 2.9, 2.98, 3.05, 3.13],
    [2.44, 2.52, 2.59, 2.67, 2.74, 2.82, 2.89, 2.97, 3.04, 3.12, 3.19],
    [2.42, 2.5, 2.57, 2.65, 2.72, 2.8, 2.87, 2.95, 3.02, 3.1, 3.17, 3.25],
    [2.41, 2.49, 2.56, 2.64, 2.71, 2.79, 2.86, 2.94, 3.01, 3.09, 3.16, 3.24, 3.29],
    [2.39, 2.47, 2.54, 2.62, 2.69, 2.77, 2.84, 2.92, 2.99, 3.07, 3.14, 3.22, 3.29],
    [2.38, 2.46, 2.53, 2.61, 2.68, 2.76, 2.83, 2.91, 2.98, 3.06, 3.13, 3.21, 3.28, 3.34],
    [2.36, 2.44, 2.51, 2.59, 2.66, 2.74, 2.81, 2.89, 2.96, 3.04, 3.11, 3.19, 3.26, 3.34],
    [2.34, 2.41, 2.49, 2.56, 2.64, 2.71, 2.79, 2.86, 2.94, 3.01, 3.09, 3.16, 3.24, 3.31, 3.38],
    [2.34, 2.41, 2.49, 2.56, 2.64, 2.71, 2.79, 2.86, 2.94, 3.01, 3.09, 3.16, 3.24, 3.31, 3.39],
    [2.35, 2.42, 2.5, 2.57, 2.65, 2.72, 2.8, 2.87, 2.95, 3.02, 3.1, 3.17, 3.25, 3.32, 3.4, 3.45],
    [2.37, 2.44, 2.52, 2.59, 2.67, 2.74, 2.82, 2.89, 2.97, 3.04, 3.12, 3.19, 3.27, 3.34, 3.42, 3.47],
    [2.4, 2.47, 2.55, 2.62, 2.7, 2.77, 2.85, 2.92, 3.0, 3.07, 3.15, 3.22, 3.3, 3.37, 3.45, 3.5],
    [2.45, 2.52, 2.6, 2.67, 2.75, 2.82, 2.9, 2.97, 3.05, 3.12, 3.2, 3.27, 3.35, 3.42, 3.5],
    [2.5, 2.57, 2.65, 2.72, 2.8, 2.87, 2.95, 3.02, 3.1, 3.17, 3.25, 3.32, 3.4, 3.47, 3.54],
    [2.55, 2.62, 2.7, 2.77, 2.85, 2.92, 3.0, 3.07, 3.15, 3.22, 3.3, 3.37, 3.45, 3.52, 3.57],
    [2.6, 2.67, 2.75, 2.82, 2.9, 2.97, 3.05, 3.12, 3.2, 3.27, 3.35, 3.42, 3.5, 3.57],
    [2.65, 2.72, 2.8, 2.87, 2.95, 3.02, 3.1, 3.17, 3.25, 3.32, 3.4, 3.47, 3.55, 3.6],
    [2.7, 2.77, 2.85, 2.92, 3.0, 3.07, 3.15, 3.22, 3.3, 3.37, 3.45, 3.52, 3.59],
    [2.75, 2.82, 2.9, 2.97, 3.05, 3.12, 3.2, 3.27, 3.35, 3.42, 3.5, 3.57],
    [2.8, 2.87, 2.95, 3.02, 3.1, 3.17, 3.25, 3.32, 3.4, 3.47, 3.55, 3.6],
    [2.85, 2.92, 3.0, 3.07, 3.15, 3.22, 3.3, 3.37, 3.45, 3.52, 3.59],
    [2.9, 2.97, 3.05, 3.12, 3.2, 3.27, 3.35, 3.42, 3.5, 3.57],
    [2.95, 3.02, 3.1, 3.17, 3.25, 3.32, 3.4, 3.47, 3.55],
    [3.0, 3.07, 3.15, 3.22, 3.3, 3.37, 3.45, 3.52],
    [3.05, 3.12, 3.2, 3.27, 3.35, 3.42, 3.49],
    [3.1, 3.17, 3.25, 3.32, 3.4, 3.47],
    [2.46, 2.54, 2.61, 2.69, 2.76, 2.84, 2.91, 2.98],
    [2.47, 2.55, 2.62, 2.7, 2.77, 2.85, 2.92, 3.0, 3.06],
    [2.48, 2.56, 2.63, 2.71, 2.78, 2.86, 2.93, 3.01, 3.08, 3.14],
    [2.49, 2.57, 2.64, 2.72, 2.79, 2.87, 2.94, 3.02, 3.09, 3.16],
    [2.48, 2.56, 2.63, 2.71, 2.78, 2.86, 2.93, 3.01, 3.08, 3.16, 3.22],
    [2.46, 2.54, 2.61, 2.69, 2.76, 2.84, 2.91, 2.99, 3.06, 3.14, 3.21, 3.27],
    [2.45, 2.53, 2.6, 2.68, 2.75, 2.83, 2.9, 2.98, 3.05, 3.13, 3.2, 3.27],
    [2.43, 2.51, 2.58, 2.66, 2.73, 2.81, 2.88, 2.96, 3.03, 3.11, 3.18, 3.26, 3.31],
    [2.42, 2.5, 2.57, 2.65, 2.72, 2.8, 2.87, 2.95, 3.02, 3.1, 3.17, 3.25, 3.32],
    [2.4, 2.48, 2.55, 2.63, 2.7, 2.78, 2.85, 2.93, 3.0, 3.08, 3.15, 3.23, 3.3, 3.36],
    [2.38, 2.45, 2.53, 2.6, 2.68, 2.75, 2.83, 2.9, 2.98, 3.05, 3.13, 3.2, 3.28, 3.35, 3.4],
    [2.38, 2.45, 2.53, 2.6, 2.68, 2.75, 2.83, 2.9, 2.98, 3.05, 3.13, 3.2, 3.28, 3.35, 3.42],
    [2.39, 2.46, 2.54, 2.61, 2.69, 2.76, 2.84, 2.91, 2.99, 3.06, 3.14, 3.21, 3.29, 3.36, 3.43],
    [2.41, 2.48, 2.56, 2.63, 2.71, 2.78, 2.86, 2.93, 3.01, 3.08, 3.16, 3.23, 3.31, 3.38, 3.45],
    [2.44, 2.51, 2.59, 2.66, 2.74, 2.81, 2.89, 2.96, 3.04, 3.11, 3.19, 3.26, 3.34, 3.41, 3.48],
    [2.49, 2.56, 2.64, 2.71, 2.79, 2.86, 2.94, 3.01, 3.09, 3.16, 3.24, 3.31, 3.39, 3.46, 3.52],
    [2.54, 2.61, 2.69, 2.76, 2.84, 2.91, 2.99, 3.06, 3.14, 3.21, 3.29, 3.36, 3.44, 3.51, 3.56],
    [2.59, 2.66, 2.74, 2.81, 2.89, 2.96, 3.04, 3.11, 3.19, 3.26, 3.34, 3.41, 3.49, 3.55],
    [2.64, 2.71, 2.79, 2.86, 2.94, 3.01, 3.09, 3.16, 3.24, 3.31, 3.39, 3.46, 3.54, 3.59],
    [2.69, 2.76, 2.84, 2.91, 2.99, 3.06, 3.14, 3.21, 3.29, 3.36, 3.44, 3.51, 3.58],
    [2.74, 2.81, 2.89, 2.96, 3.04, 3.11, 3.19, 3.26, 3.34, 3.41, 3.49, 3.56],
    [2.79, 2.86, 2.94, 3.01, 3.09, 3.16, 3.24, 3.31, 3.39, 3.46, 3.54, 3.59],
    [2.84, 2.91, 2.99, 3.06, 3.14, 3.21, 3.29, 3.36, 3.44, 3.51, 3.58],
    [2.89, 2.96, 3.04, 3.11, 3.19, 3.26, 3.34, 3.41, 3.49, 3.56],
    [2.94, 3.01, 3.09, 3.16, 3.24, 3.31, 3.39, 3.46, 3.54],
    [2.99, 3.06, 3.14, 3.21, 3.29, 3.36, 3.44, 3.51],
    [3.04, 3.11, 3.19, 3.26, 3.34, 3.41, 3.48],
    [3.09, 3.16, 3.24, 3.31, 3.38, 3.45],
    [3.14, 3.21, 3.29, 3.36, 3.43],
]
c_scatter = [(-1.0, 2.81), (-0.85, 3.51), (-0.77, 2.7), (-0.7, 2.57), (-0.72, 2.14), (-0.72, 2.07),
             (-0.66, 2.81), (-0.62, 2.72), (-0.51, 2.72), (-0.4, 3.32), (-0.3, 3.18), (-0.23, 3.15),
             (-0.23, 3.52), (-0.28, 2.96), (-0.25, 2.98), (-0.18, 2.08), (-0.18, 1.88), (0.055, 2.0),
             (-0.1, 3.3), (-0.1, 3.22), (-0.1, 3.12), (-0.05, 3.36), (-0.05, 3.25), (-0.05, 3.15),
             (0.0, 3.45), (0.0, 3.3), (0.0, 3.2), (0.03, 3.1), (0.06, 3.35), (0.06, 3.18),
             (-0.03, 3.05), (0.08, 3.25), (0.12, 3.38), (0.17, 3.25), (0.05, 3.45), (0.15, 3.35),
             (0.2, 3.42), (0.27, 2.08), (0.32, 1.95), (0.39, 2.11), (0.42, 2.04), (0.47, 1.95),
             (0.57, 2.14), (0.57, 2.26), (0.78, 2.11), (0.85, 2.15), (0.92, 2.19), (1.27, 2.54),
             (1.64, 3.71), (1.54, 3.85), (1.44, 3.81), (1.62, 3.14), (1.58, 3.08), (1.52, 3.15),
             (1.48, 3.6), (1.66, 3.3), (0.33, 3.53), (0.44, 3.54), (0.65, 3.69), (0.86, 3.91),
             (1.16, 3.93), (1.4, 3.95)]
c_tri = [(1.17, 3.5), (1.175, 3.46), (1.185, 3.38), (1.27, 3.46), (1.3, 3.48), (1.33, 3.46),
         (1.29, 3.44), (1.27, 3.24), (1.2, 3.19), (1.25, 3.2), (1.15, 3.16), (1.12, 3.21),
         (1.08, 3.26), (1.08, 3.16), (1.04, 3.06), (1.0, 3.05), (0.97, 3.22), (0.91, 3.16),
         (0.81, 3.13), (0.72, 3.04), (1.0, 2.92), (0.98, 2.9), (1.11, 3.0), (1.15, 3.03),
         (0.94, 3.02), (0.89, 3.0), (0.93, 2.92), (0.82, 2.98), (0.88, 2.86), (0.91, 2.88),
         (0.66, 2.94), (0.58, 2.94), (0.61, 2.86), (0.67, 2.86), (0.49, 2.82), (0.52, 2.82),
         (0.57, 2.89), (0.62, 2.76), (0.66, 2.74), (0.72, 2.74), (0.76, 2.76), (0.79, 2.72),
         (0.83, 2.77), (0.87, 2.78), (0.95, 2.76), (0.83, 2.68), (0.81, 2.8), (0.54, 2.68),
         (0.52, 2.62), (0.32, 2.58), (0.84, 2.58), (0.59, 2.56), (0.65, 2.56), (0.66, 2.54),
         (0.61, 2.5), (0.75, 2.46), (0.64, 2.42), (0.58, 2.35), (0.91, 2.35), (0.9, 2.19),
         (0.72, 2.2), (0.74, 2.15), (0.75, 2.11), (0.72, 1.66), (1.04, 4.84)]
c_fit = (2.687, 0.4117)


def stack(xs, cols):
    x = [xv for xv, vals in zip(xs, cols) for _ in vals]
    y = [v for vals in cols for v in vals]
    return x, y


def unzip(pts):
    return [p[0] for p in pts], [p[1] for p in pts]


def circles(ax, x, y, color, lw=0.9):
    ax.scatter(x, y, s=38, facecolors='none', edgecolors=color, linewidths=lw, zorder=2)


def triangles(ax, pts):
    x, y = unzip(pts)
    ax.scatter(x, y, s=40, marker='^', c='black', linewidths=0, zorder=4)


def style(ax, xlim, ylim, xticks, yticks, xfmt, xpad):
    ax.set_xlim(*xlim)
    ax.set_ylim(*ylim)
    ax.set_xticks(xticks)
    ax.set_yticks(yticks)
    ax.set_xticklabels([xfmt % t for t in xticks])
    ax.set_yticklabels(['%.1f' % t for t in yticks])
    ax.spines['right'].set_visible(False)
    for s in ['left', 'bottom', 'top']:
        ax.spines[s].set_linewidth(0.9)
    ax.tick_params(axis='both', direction='out', length=3.5, width=0.9, labelsize=10.5)
    ax.tick_params(axis='x', pad=xpad)
    ax.tick_params(axis='y', pad=3)


fig = plt.figure(figsize=(5.58, 12.41), dpi=100)
W, H = 558.0, 1241.0

# panel a
ax = fig.add_axes([85 / W, 1 - 345 / H, 473 / W, 330 / H])
for xs_, cols in [(a_site_temp, a_site_pco2), (a_core_temp, a_core_pco2)]:
    x, y = stack(xs_, cols)
    circles(ax, x, y, GREY)
xs = np.array([-21, 36.2])
ax.plot(xs, a_fit[0] + a_fit[1] * xs, color='black', lw=1.1, zorder=3)
triangles(ax, a_tri)
style(ax, (-20.97, 36.16), (1.0, 5.0), [-20, -10, 0, 10, 20, 30],
      [1.0, 1.5, 2.0, 2.5, 3.0, 3.5, 4.0, 4.5, 5.0], '%d', 7)

# panel b
ax = fig.add_axes([84 / W, 1 - 758 / H, 474 / W, 332 / H])
x, y = stack(b_col_temp, b_col_pco2)
circles(ax, x, y, 'black')
x, y = stack(b_core_temp, b_core_pco2)
circles(ax, x, y, 'black', lw=1.05)
x, y = unzip(b_scatter)
circles(ax, x, y, 'black')
xs = np.array(b_fit_range)
ax.plot(xs, b_fit[0] + b_fit[1] * xs, color='black', lw=1.1, zorder=3)
style(ax, (-0.07, 35.1), (1.0, 4.5), [0, 5, 10, 15, 20, 25, 30],
      [1.0, 1.5, 2.0, 2.5, 3.0, 3.5, 4.0, 4.5], '%d', 7)

# panel c
ax = fig.add_axes([83 / W, 1 - 1183 / H, 475 / W, 334 / H])
for xs_, cols in [(c_col_doc, c_col_pco2), (c_core_doc, c_core_pco2)]:
    x, y = stack(xs_, cols)
    circles(ax, x, y, GREY)
x, y = unzip(c_scatter)
circles(ax, x, y, GREY)
xs = np.array([-1.06, 1.93])
ax.plot(xs, c_fit[0] + c_fit[1] * xs, color='black', lw=1.1, zorder=3)
triangles(ax, c_tri)
style(ax, (-1.053, 1.927), (1.0, 5.0), [-1.0, -0.5, 0.0, 0.5, 1.0, 1.5],
      [1.0, 1.5, 2.0, 2.5, 3.0, 3.5, 4.0, 4.5, 5.0], '%.1f', 4)

# panel letters
fig.text(96 / W, 1 - 53 / H, 'a', fontsize=18, fontweight='bold', va='baseline')
fig.text(93 / W, 1 - 464 / H, 'b', fontsize=18, fontweight='bold', va='baseline')
fig.text(100 / W, 1 - 883 / H, 'c', fontsize=18, fontweight='bold', va='baseline')

# axis labels
ylab = 'log pCO$_2$ (µatm)'
for yc in [176, 578, 1016]:
    fig.text(21 / W, 1 - yc / H, ylab, rotation=90, ha='center', va='center',
             fontsize=12.3, fontweight='bold')
fig.text(270 / W, 1 - 391 / H, 'Annual mean air temperature (°C)', ha='center', va='center',
         fontsize=12.3, fontweight='bold')
fig.text(307 / W, 1 - 803 / H, 'In-situ water temperature at time of sampling (°C)',
         ha='center', va='center', fontsize=12.3, fontweight='bold')
fig.text(300 / W, 1 - 1229 / H, r'log DOC (mg L$^{\text{-1}}$)', ha='center', va='center',
         fontsize=12.3, fontweight='bold')

fig.savefig('out.png', dpi=100)
